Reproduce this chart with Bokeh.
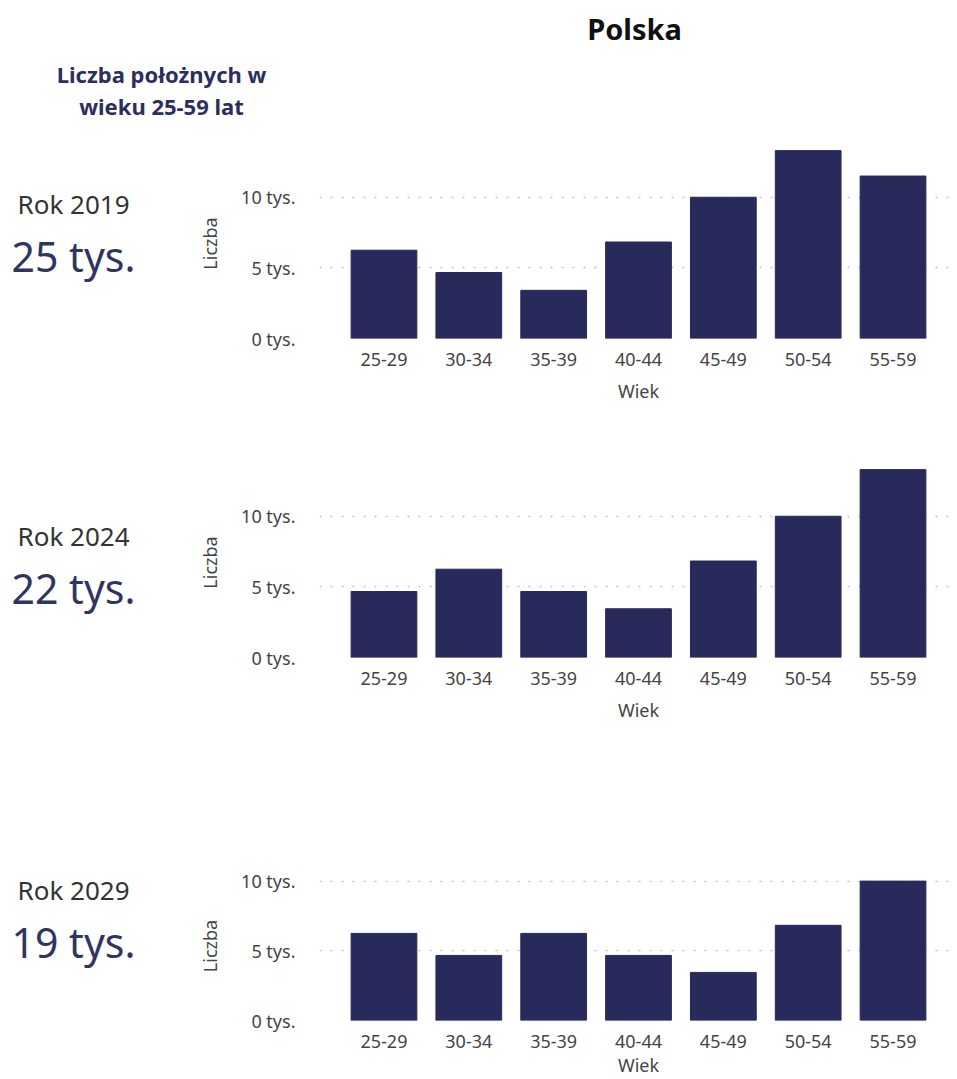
from bokeh.plotting import figure
from bokeh.models import Range1d, FactorRange, FixedTicker, PrintfTickFormatter
from bokeh.layouts import column, row
from bokeh.embed import file_html
from bokeh.resources import INLINE
from bokeh.core.properties import value

# ---------------- data ----------------
categories = ["25-29", "30-34", "35-39", "40-44", "45-49", "50-54", "55-59"]
values_2019 = [6.25, 4.67, 3.41, 6.83, 10.0, 13.3, 11.5]   # thousands
values_2024 = [4.67, 6.25, 4.67, 3.45, 6.83, 10.0, 13.3]
values_2029 = [6.25, 4.67, 6.25, 4.67, 3.45, 6.83, 10.0]
years = ["Rok 2019", "Rok 2024", "Rok 2029"]
totals = ["25 tys.", "22 tys.", "19 tys."]
title_text = "Polska"
subtitle_lines = ["Liczba położnych w", "wieku 25-59 lat"]
y_ticks = [0, 5, 10]

FONT = "Noto Sans"
BAR = "#282a5c"
NAVY_TXT = "#2c2f5e"
TOTAL_W = 957
LEFT_W = 188


def blank(w, h):
    p = figure(width=w, height=h, x_range=Range1d(0, w), y_range=Range1d(h, 0),
               min_border=0, toolbar_location=None, output_backend="svg",
               x_axis_type=None, y_axis_type=None, outline_line_color=None)
    p.background_fill_color = "white"
    return p


# header (y 0..130)
header = blank(TOTAL_W, 130)
header.text(x=[634], y=[28], text=[title_text], text_font=value(FONT),
            text_font_size="29px", text_font_style="bold", text_color="#111111",
            text_align="center", text_baseline="middle")
header.text(x=[161, 161], y=[73, 105], text=subtitle_lines, text_font=value(FONT),
            text_font_size="22px", text_font_style="bold", text_color=NAVY_TXT,
            text_align="center", text_baseline="middle")

# left column (y 130..1079)
left = blank(LEFT_W, 949)
left.text(x=[73, 73, 73], y=[73, 405, 759], text=years, text_font=value(FONT),
          text_font_size="26px", text_color="#333333",
          text_align="center", text_baseline="middle")
left.text(x=[73, 73, 73], y=[125, 457, 811], text=totals, text_font=value(FONT),
          text_font_size="41px", text_color="#2f3461",
          text_align="center", text_baseline="middle")


def chart(vals, height, y_end, b_top, b_bottom, lab_standoff):
    p = figure(width=TOTAL_W - LEFT_W, height=height,
               x_range=FactorRange(factors=categories, range_padding=0.26,
                                   range_padding_units="absolute"),
               y_range=Range1d(0, y_end),
               min_border_left=131, min_border_right=0,
               min_border_top=b_top, min_border_bottom=b_bottom,
               toolbar_location=None, output_backend="svg",
               outline_line_color=None)
    p.vbar(x=categories, top=vals, width=0.775, fill_color=BAR, line_color=BAR)
    p.xgrid.visible = False
    p.ygrid.ticker = FixedTicker(ticks=y_ticks)
    p.ygrid.grid_line_color = "#c4c4c4"
    p.ygrid.grid_line_dash = "2 9"
    p.ygrid.grid_line_width = 1.5
    p.yaxis.ticker = FixedTicker(ticks=y_ticks)
    p.yaxis.formatter = PrintfTickFormatter(format="%d tys.")
    for ax in (p.xaxis, p.yaxis):
        ax.axis_line_color = None
        ax.major_tick_line_color = None
        ax.minor_tick_line_color = None
        ax.major_label_text_font = FONT
        ax.major_label_text_font_size = "18px"
        ax.major_label_text_color = "#444444"
        ax.axis_label_text_font = FONT
        ax.axis_label_text_font_size = "18px"
        ax.axis_label_text_font_style = "normal"
        ax.axis_label_text_color = "#444444"
    p.yaxis.axis_label = "Liczba"
    p.yaxis.major_label_standoff = 18
    p.yaxis.axis_label_standoff = 16
    p.xaxis.axis_label = "Wiek"
    p.xaxis.major_label_standoff = 8
    p.xaxis.axis_label_standoff = lab_standoff
    return p


c1 = chart(values_2019, 278, 13.45, 18, 70, 10)
c2 = chart(values_2024, 319, 13.45, 59, 70, 10)
c3 = chart(values_2029, 352, 10.69, 144, 57, 2)

layout = column(header, row(left, column(c1, c2, c3)))

open("out.html", "w").write(file_html(layout, INLINE))
